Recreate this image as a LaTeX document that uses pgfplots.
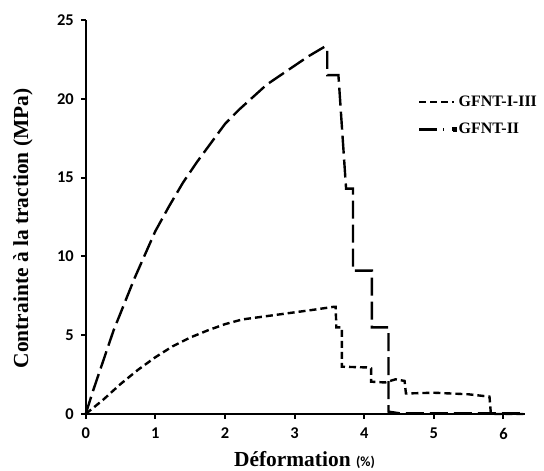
\documentclass[border=0pt]{standalone}
\usepackage{pgfplots}
\pgfplotsset{compat=1.18}
\usepackage{fontspec}
\setmainfont{Liberation Serif}
\newfontfamily\carlito{Carlito}
\begin{document}
\begin{tikzpicture}
\useasboundingbox (-85.7bp,-57bp) rectangle (458.3bp,414bp);
\begin{axis}[
  scale only axis, width=439.3bp, height=394bp,
  xmin=0, xmax=6.31, ymin=0, ymax=25,
  axis x line*=bottom, axis y line*=left,
  axis line style={line width=2.2bp, -},
  xtick={0,1,...,6}, ytick={0,5,...,25},
  tick style={line width=2bp, black},
  tick align=outside, major tick length=4.5bp,
  /pgf/number format/assume math mode=true,
  ticklabel style={font=\carlito\bfseries\fontsize{16.5}{16.5}\selectfont},
  xticklabel style={yshift=-6bp},
  yticklabel style={xshift=-4bp},
  xlabel={Déformation {\carlito\fontsize{14}{14}\selectfont (\%)}},
  ylabel={Contrainte à la traction (MPa)},
  label style={font=\bfseries\fontsize{21.5}{21.5}\selectfont},
  xlabel style={at={(axis description cs:0.498,-0.132)}, anchor=base},
  ylabel style={at={(axis description cs:-0.143,0.471)}, anchor=center},
  clip=false,
  legend style={draw=none, fill=none, at={(axis cs:4.774,20.3)}, anchor=north west,
    font=\bfseries\fontsize{16}{16}\selectfont, inner sep=0pt,
    row sep=11bp, /tikz/every even column/.append style={column sep=6bp}},
  legend cell align=left,
]
\addplot[black, line width=2.4bp, dash pattern=on 7bp off 4bp,
  legend image code/.code={\draw[black, line width=2.4bp, dash pattern=on 7bp off 4bp] (0bp,0bp) -- (35bp,0bp);}]
  coordinates {
  (0,0) (0.25,0.9) (0.5,1.9) (0.75,2.8) (1.0,3.6) (1.25,4.3) (1.5,4.85) (1.75,5.3)
  (2.0,5.7) (2.25,6.0) (2.5,6.15) (2.75,6.3) (3.0,6.45) (3.25,6.6) (3.56,6.8)
  (3.59,6.8) (3.6,5.5) (3.68,5.5) (3.68,3.0) (4.08,2.95) (4.1,2.9) (4.1,2.05)
  (4.3,2.0) (4.45,2.2) (4.58,2.1) (4.6,1.3) (5.0,1.35) (5.5,1.25) (5.8,1.1)
  (5.82,0) (6.3,0)
  };
\addlegendentry{GFNT-I-III}
\addplot[black, line width=2.4bp, dash pattern=on 18bp off 6bp,
  legend image code/.code={\draw[black, line width=2.4bp] (0bp,0bp) -- (25bp,0bp); \fill[black] (34bp,-1.2bp) rectangle (36bp,1.2bp);}]
  coordinates {
  (0,0) (0.1,1.4) (0.2,2.7) (0.3,4.0) (0.4,5.3) (0.5,6.4) (0.6,7.5) (0.7,8.6)
  (0.8,9.6) (0.9,10.6) (1.0,11.6) (1.2,13.2) (1.4,14.7) (1.6,16.0) (1.8,17.2)
  (2.0,18.4) (2.2,19.3) (2.4,20.1) (2.6,20.9) (2.8,21.5) (3.0,22.1) (3.2,22.7)
  (3.43,23.3) (3.47,23.2) (3.47,21.5) (3.63,21.5) (3.74,14.3) (3.84,14.3)
  (3.84,9.1) (4.11,9.1) (4.11,5.5) (4.35,5.5) (4.35,0.15) (4.5,0.05) (6.31,0.05)
  };
\addlegendentry{GFNT-II}
\end{axis}
\end{tikzpicture}
\end{document}
